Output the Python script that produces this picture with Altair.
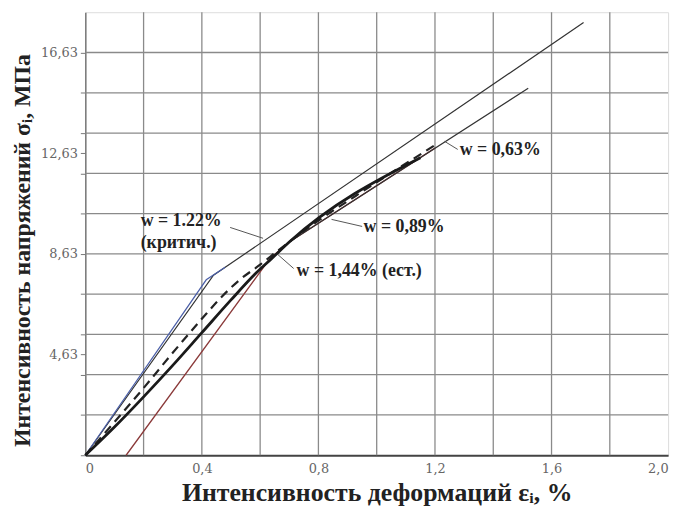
import altair as alt
import pandas as pd

# ---------------- data ----------------
x_label_values = [0, 0.4, 0.8, 1.2, 1.6, 2.0]
x_grid_values = [0.2, 0.4, 0.6, 0.8, 1.0, 1.2, 1.4, 1.6, 1.8]
y_grid_values = [2.23, 3.83, 5.43, 7.03, 8.63, 10.23, 11.83, 13.43, 15.03, 16.63]
y_tick_values = [0.63, 2.23, 3.83, 4.63, 5.43, 7.03, 8.63, 10.23, 11.83, 12.63,
                 13.43, 15.03, 16.63]
y_labeled = ["4.63", "8.63", "12.63", "16.63"]

# upper curve (dark) and its blue companion
top_x = [0, 0.44, 1.71]
top_y = [0.63, 7.78, 17.82]
blue_x = [0, 0.415, 0.48]
blue_y = [0.63, 7.6, 8.1]
# w = 0.63 % (thin)
w063_x = [0, 0.1, 0.2, 0.3, 0.4, 0.5, 0.58, 0.64, 0.70, 1.52]
w063_y = [0.63, 1.75, 2.95, 4.2, 5.5, 6.8, 7.8, 8.45, 9.1, 15.21]
# thick solid curve
thick_x = [0, 0.1, 0.2, 0.3, 0.4, 0.5, 0.58, 0.64, 0.70, 1.15]
thick_y = [0.63, 1.75, 2.95, 4.2, 5.5, 6.8, 7.8, 8.45, 9.1, 12.45]
# dashed curve
dash_x = [0, 0.1, 0.2, 0.3, 0.4, 0.47, 0.53, 0.6, 0.66, 0.80, 0.93, 1.2]
dash_y = [0.63, 1.95, 3.3, 4.7, 6.05, 6.95, 7.6, 8.2, 8.75, 9.95, 10.95, 12.95]
# red (offset start) curve
red_x = [0.14, 0.634, 0.70, 1.2]
red_y = [0.63, 8.45, 9.1, 12.83]

# annotations
label_text = ["w = 1.22%", "(критич.)", "w = 0,63%", "w = 0,89%", "w = 1,44% (ест.)"]
label_x = [0.19, 0.19, 1.285, 0.955, 0.725]
label_y = [9.95, 9.05, 12.77, 9.7, 7.95]
leader_id = ["a", "a", "b", "b", "c", "c", "d", "d"]
leader_x = [0.497, 0.61, 1.233, 1.278, 0.845, 0.95, 0.661, 0.715]
leader_y = [9.68, 9.25, 13.1, 12.78, 10.0, 9.72, 8.6, 8.05]

FONT = "Liberation Serif"
TICKFONT = "DejaVu Serif"

# ---------------- chart ----------------
xs = alt.Scale(domain=[0, 2.0], nice=False, zero=False)
ys = alt.Scale(domain=[0.63, 18.23], nice=False, zero=False)

y_label_expr = ("indexof(['4.63', '8.63', '12.63', '16.63'], format(datum.value, '.2f')) >= 0"
                " ? replace(format(datum.value, '.2f'), '.', ',') : ''")
x_label_expr = "datum.value == 0 ? '0' : replace(format(datum.value, '.1f'), '.', ',')"

x_axis = alt.Axis(values=x_label_values, grid=False, ticks=False,
                  title="Интенсивность деформаций  εᵢ, %",
                  labelExpr=x_label_expr,
                  labelFont=TICKFONT, labelFontSize=13, labelColor="#666",
                  labelPadding=7, labelOverlap=False,
                  titleFont=FONT, titleFontSize=26,
                  titleFontWeight="bold", titleColor="#222",
                  titlePadding=5, domainColor="#444", domainWidth=2)
y_axis = alt.Axis(values=y_tick_values, grid=False, tickSize=5,
                  tickColor="#777",
                  title="Интенсивность напряжений  σᵢ, МПа",
                  labelExpr=y_label_expr,
                  labelFont=TICKFONT, labelFontSize=13, labelColor="#666",
                  labelPadding=3, labelOverlap=False,
                  titleFont=FONT, titleFontSize=24,
                  titleFontWeight="bold", titleColor="#222",
                  titleY=240,
                  titlePadding=6, domainColor="#777", domainWidth=1.5)

X = alt.X("x:Q", scale=xs, axis=x_axis)
Y = alt.Y("y:Q", scale=ys, axis=y_axis)

vgrid = alt.Chart(pd.DataFrame({"x": x_grid_values})).mark_rule(
    color="#8a8a8a", strokeWidth=1.3).encode(x=X)
hgrid = alt.Chart(pd.DataFrame({"y": y_grid_values})).mark_rule(
    color="#8a8a8a", strokeWidth=1.3).encode(y=Y)


def series(xv, yv):
    return pd.DataFrame({"x": xv, "y": yv, "o": list(range(len(xv)))})


def line(df, **kw):
    return alt.Chart(df).mark_line(**kw).encode(x=X, y=Y, order="o:Q")


layers = [
    vgrid, hgrid,
    line(series(red_x, red_y), color="#8b3a3a", strokeWidth=1.3),
    line(series(w063_x, w063_y), color="#333333", strokeWidth=1.2),
    line(series(top_x, top_y), color="#333333", strokeWidth=1.2),
    line(series(blue_x, blue_y), color="#4b5fa8", strokeWidth=1.2),
    line(series(dash_x, dash_y), color="#222222", strokeWidth=2.2,
         strokeDash=[9, 6], interpolate="monotone"),
    line(series(thick_x, thick_y), color="#1a1a1a", strokeWidth=2.8,
         interpolate="monotone"),
]

leaders = alt.Chart(pd.DataFrame({"id": leader_id, "x": leader_x, "y": leader_y})).mark_line(
    color="#555", strokeWidth=1).encode(x=X, y=Y, detail="id:N")
labels = alt.Chart(pd.DataFrame({"t": label_text, "x": label_x, "y": label_y})).mark_text(
    font=FONT, fontSize=18, fontWeight="bold", color="#222", align="left",
    baseline="middle").encode(x=X, y=Y, text="t:N")

chart = alt.layer(*layers, leaders, labels).properties(
    width=588, height=447,
    autosize=alt.AutoSizeParams(type="none"),
    padding={"left": 78, "top": 2, "right": 10, "bottom": 55},
).configure_view(stroke="#777", strokeWidth=1.5).configure(background="white")

chart.save("out.html", embed_options={"renderer": "svg", "actions": False})
